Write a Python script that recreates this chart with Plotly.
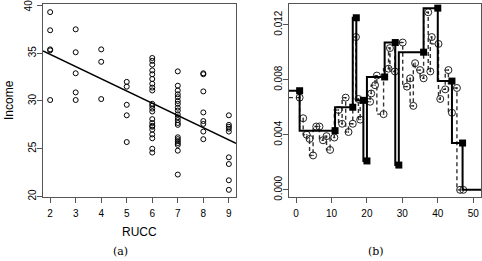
import plotly.graph_objects as go

# ---------- panel (a): Income vs RUCC ----------
rucc_levels = [2, 3, 4, 5, 6, 7, 8, 9]
income_by_rucc = {
    2: [39.3, 37.4, 35.4, 35.3, 30.1],
    3: [37.5, 35.1, 32.9, 30.9, 30.1],
    4: [35.4, 34.1, 30.2],
    5: [32.0, 31.5, 29.6, 28.5, 25.7],
    6: [34.5, 34.2, 33.8, 33.2, 32.8, 32.3, 31.8, 31.4, 31.1, 29.7, 29.5, 29.2,
        28.9, 28.1, 27.7, 27.4, 27.3, 27.0, 26.5, 26.1, 25.0, 24.6],
    7: [33.1, 31.6, 31.1, 30.7, 30.4, 30.0, 29.7, 29.3, 29.0, 28.6, 28.3, 28.0,
        27.7, 27.5, 26.2, 26.0, 25.8, 25.6, 25.4, 24.8, 22.3],
    8: [32.9, 32.8, 31.0, 28.8, 27.9, 27.6, 26.8, 26.0],
    9: [28.5, 27.5, 27.3, 27.1, 26.8, 24.1, 23.4, 21.7, 20.7],
}
fit_intercept = 37.44
fit_slope = -1.28
fit_x = [1.72, 9.28]

# ---------- panel (b): step estimates ----------
step_x = [-2, 1, 11, 16, 17, 19, 20, 25, 28, 29, 36, 40, 44, 47, 52.2]
step_y = [0.0072, 0.0072, 0.0043, 0.0060, 0.0125, 0.0065, 0.0021, 0.0082,
          0.0107, 0.0018, 0.0100, 0.0132, 0.0079, 0.0034, 0.0]
step_marked = [1, 11, 16, 17, 19, 20, 25, 28, 29, 36, 40, 44, 47]

dash_x = [-2, 1.0, 2.0, 3.0, 3.8, 4.8, 5.7, 6.6, 7.6, 8.6, 9.6, 10.8, 12.0, 13.0,
          14.0, 14.8, 16.0, 16.9, 17.6, 18.1, 20.9, 21.2, 22.3, 22.8, 24.7,
          26.1, 26.5, 27.9, 30.1, 31.3, 32.2, 33.1, 33.6, 35.0, 36.0, 37.3,
          37.9, 38.3, 40.2, 40.7, 42.1, 43.0, 44.0, 45.4, 46.3, 47.2]
dash_y = [0.0067, 0.0067, 0.0052, 0.0040, 0.0037, 0.0025, 0.0046, 0.0046, 0.0036,
          0.0039, 0.0029, 0.0038, 0.0058, 0.0048, 0.0067, 0.0042, 0.0048,
          0.0111, 0.0066, 0.0051, 0.0064, 0.0070, 0.0076, 0.0083, 0.0055,
          0.0088, 0.0103, 0.0086, 0.0107, 0.0075, 0.0081, 0.0061, 0.0092,
          0.0087, 0.0081, 0.0129, 0.0086, 0.0111, 0.0106, 0.0066, 0.0073,
          0.0087, 0.0056, 0.0074, 0.0000, 0.0000]

x_ticks_a = [2, 3, 4, 5, 6, 7, 8, 9]
y_ticks_a = [20, 25, 30, 35, 40]
y_tick_labels_a = ["20", "25", "30", "35", ""]   # top label drawn as annotation
top_label_a = "40"
x_ticks_b = [0, 10, 20, 30, 40, 50]
y_ticks_b = [0.000, 0.004, 0.008, 0.012]
y_tick_labels_b = ["0.000", "0.004", "0.008", "0.012"]

FONT = "Liberation Sans"
AX = "#555555"

fig = go.Figure()

# panel (a)
sx, sy = [], []
for r in rucc_levels:
    for v in income_by_rucc[r]:
        sx.append(r)
        sy.append(v)
fig.add_trace(go.Scatter(
    x=sx, y=sy, mode="markers", xaxis="x", yaxis="y",
    marker=dict(symbol="circle-open", size=5, color="black", line=dict(width=1)),
    showlegend=False, hoverinfo="skip"))
fig.add_trace(go.Scatter(
    x=fit_x, y=[fit_intercept + fit_slope * v for v in fit_x], mode="lines",
    xaxis="x", yaxis="y", line=dict(color="black", width=1.5),
    showlegend=False, hoverinfo="skip"))

# panel (b)
fig.add_trace(go.Scatter(
    x=dash_x, y=dash_y, mode="lines", xaxis="x2", yaxis="y2",
    line=dict(color="#333333", width=1.4, dash="4px,3px", shape="vh"),
    showlegend=False, hoverinfo="skip"))
fig.add_trace(go.Scatter(
    x=dash_x[1:], y=dash_y[1:], mode="markers", xaxis="x2", yaxis="y2",
    marker=dict(symbol="circle-open-dot", size=7, color="#222222",
                line=dict(width=1)),
    showlegend=False, hoverinfo="skip"))
fig.add_trace(go.Scatter(
    x=step_x, y=step_y, mode="lines", xaxis="x2", yaxis="y2",
    line=dict(color="black", width=2, shape="vh"),
    showlegend=False, hoverinfo="skip"))
mk_y = [step_y[step_x.index(v)] for v in step_marked]
fig.add_trace(go.Scatter(
    x=step_marked, y=mk_y, mode="markers", xaxis="x2", yaxis="y2",
    marker=dict(symbol="square", size=7, color="black"),
    showlegend=False, hoverinfo="skip"))

axis_common = dict(showline=True, mirror=True, linecolor=AX, linewidth=1,
                   ticks="outside", ticklen=5, tickcolor=AX, showgrid=False,
                   zeroline=False, automargin=False,
                   tickfont=dict(family=FONT, size=10, color="black"))

W, H = 482, 261
fig.update_layout(
    width=W, height=H, margin=dict(l=0, r=0, t=0, b=0, pad=0),
    plot_bgcolor="white", paper_bgcolor="white",
    xaxis=dict(domain=[43 / W, 236 / W], range=[1.72, 9.28], tickvals=x_ticks_a,
               anchor="y", ticklabelstandoff=2, **axis_common),
    yaxis=dict(domain=[1 - 197 / H, 1 - 4 / H], range=[19.95, 40.15],
               tickvals=y_ticks_a, ticktext=y_tick_labels_a, tickangle=-90,
               anchor="x", ticklabelstandoff=-3, **axis_common),
    xaxis2=dict(domain=[289 / W, 481 / W], range=[-2, 52.2], tickvals=x_ticks_b,
                anchor="y2", ticklabelstandoff=2, **axis_common),
    yaxis2=dict(domain=[1 - 197 / H, 1 - 4 / H], range=[-0.00052, 0.0135],
                tickvals=y_ticks_b, ticktext=y_tick_labels_b, tickangle=-90,
                anchor="x2", ticklabelstandoff=-3, **axis_common),
    annotations=[
        dict(text=top_label_a, x=40, y=40, xref="x", yref="y", ax=0, ay=0,
             showarrow=False, xshift=0, textangle=-90,
             font=dict(family=FONT, size=10, color="black")),
        dict(text="Income", x=9 / W, y=1 - 100 / H, xref="paper", yref="paper",
             xanchor="center", yanchor="middle",
             textangle=-90, showarrow=False, font=dict(family=FONT, size=12, color="black")),
        dict(text="RUCC", x=139 / W, y=1 - 232 / H, xref="paper", yref="paper",
             xanchor="center", yanchor="middle",
             showarrow=False, font=dict(family=FONT, size=12, color="black")),
        dict(text="(a)", x=120 / W, y=1 - 251 / H, xref="paper", yref="paper",
             xanchor="center", yanchor="middle",
             showarrow=False, font=dict(family="DejaVu Serif", size=11, color="black")),
        dict(text="(b)", x=376 / W, y=1 - 251 / H, xref="paper", yref="paper",
             xanchor="center", yanchor="middle",
             showarrow=False, font=dict(family="DejaVu Serif", size=11, color="black")),
    ],
)
# place the top tick label of panel (a) in paper x beside the y axis, at y=40
fig.layout.annotations[0].update(xref="paper", x=28 / W, xanchor="center",
                                 yanchor="middle")

fig.write_html("out.html", config={"displayModeBar": False},
               post_script="document.body.style.margin='0';document.body.style.overflow='hidden';")
